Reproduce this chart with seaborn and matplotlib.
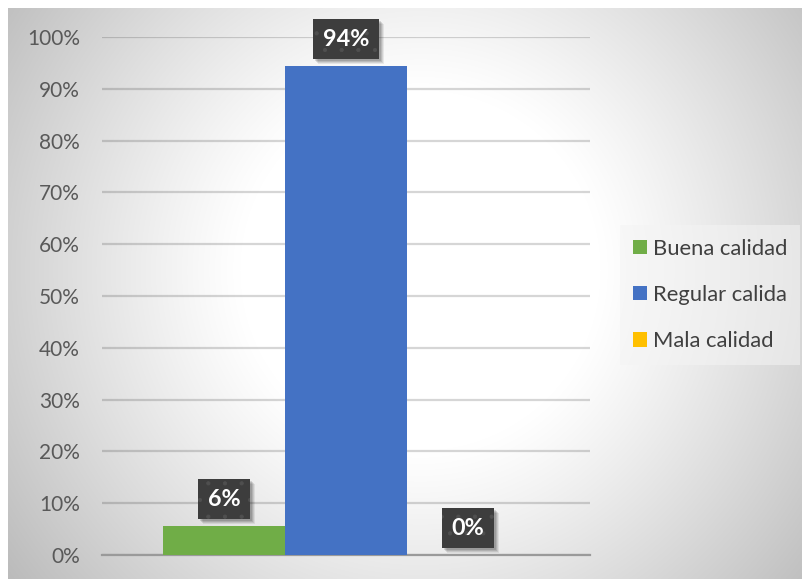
import numpy as np
import pandas as pd
import matplotlib
matplotlib.use("Agg")
import matplotlib.pyplot as plt
from matplotlib.patches import Rectangle
from matplotlib.ticker import PercentFormatter, MultipleLocator
import seaborn as sns

# Data
series = ["Buena calidad", "Regular calida", "Mala calidad"]
values = [0.056, 0.944, 0.0]
colors = ["#70ad47", "#4472c4", "#ffc000"]

sns.set_theme(style="white")
plt.rcParams["font.family"] = ["Lato", "DejaVu Sans"]
plt.rcParams["hatch.linewidth"] = 0.6

W, H, DPI = 803, 579, 100
fig = plt.figure(figsize=(W / DPI, H / DPI), dpi=DPI, facecolor="white")

# Radial grey background behind the chart
bg = fig.add_axes([8 / W, 0, (W - 8) / W, (H - 8) / H], zorder=-10)
yy, xx = np.mgrid[8:H, 8:W]
d = np.hypot(xx - 420, yy - 270)
drop = 0.22 * np.clip((d - 180) / 280, 0, None) ** 1.1
light = np.clip(1 - drop, 0, 1)
bg.imshow(np.dstack([light] * 3), aspect="auto", extent=(0, 1, 0, 1), origin="upper")
bg.set_axis_off()

ax = fig.add_axes([102 / W, 1 - 555 / H, (590 - 102) / W, (555 - 37) / H])
ax.set_facecolor("none")

df = pd.DataFrame({"grupo": [""] * len(series), "serie": series, "valor": values})
sns.barplot(data=df, x="grupo", y="valor", hue="serie", hue_order=series,
            palette=colors, width=0.75, dodge=True, saturation=1, ax=ax,
            edgecolor="none", linewidth=0, zorder=3)

ax.set_xlim(-0.5, 0.5)
ax.set_ylim(0, 1)
ax.yaxis.set_major_locator(MultipleLocator(0.1))
ax.yaxis.set_major_formatter(PercentFormatter(1.0, decimals=0))
ax.grid(axis="y", color="black", alpha=0.16, linewidth=1.6, zorder=0)
ax.set_axisbelow(True)
for s in ["top", "right", "left"]:
    ax.spines[s].set_visible(False)
ax.spines["bottom"].set_color("#9a9a9a")
ax.spines["bottom"].set_linewidth(1.6)
ax.set_xticks([])
ax.set_xlabel("")
ax.set_ylabel("")
ax.tick_params(axis="y", length=0, pad=16, labelsize=15, labelcolor="#595959")

# Value labels in dark boxes above each bar
label_texts = []
for cont, v in zip(ax.containers, values):
    for bar in cont:
        cx = bar.get_x() + bar.get_width() / 2
        h = bar.get_height()
        t = ax.annotate(f"{v:.0%}", (cx, h), xytext=(0, 11.8), textcoords="offset points",
                        ha="center", va="bottom", fontsize=16.8, fontweight="bold",
                        color="white", zorder=5,
                        bbox=dict(boxstyle="square,pad=0.40", fc="#3d3d3d",
                                  ec="#4f4f4f", lw=0, hatch="."))
        label_texts.append(t)

handles, labels = ax.get_legend_handles_labels()
leg = ax.legend(handles, labels, loc="center left",
                bbox_to_anchor=(620 / W, 1 - 295 / H), bbox_transform=fig.transFigure,
                frameon=True, fancybox=False, fontsize=15.8,
                handlelength=0.62, handleheight=0.62, handletextpad=0.28,
                labelspacing=1.2, borderpad=0.6, borderaxespad=0)
leg.get_frame().set_facecolor("#f4f4f4")
leg.get_frame().set_alpha(0.55)
leg.get_frame().set_edgecolor("none")
for t in leg.get_texts():
    t.set_color("#404040")

# Soft drop shadow under each label box
fig.canvas.draw()
for t in label_texts:
    bb = t.get_bbox_patch().get_window_extent()
    for k, a in [(5.0, 0.07), (4.0, 0.09), (3.0, 0.11), (2.0, 0.12)]:
        fig.patches.append(Rectangle((bb.x0 + k, bb.y0 - k), bb.width, bb.height,
                                     transform=None, fc="black", ec="none",
                                     alpha=a, zorder=1))
    t.set_zorder(6)
ax.set_zorder(2)

fig.savefig("out.png", dpi=DPI, facecolor="white")
